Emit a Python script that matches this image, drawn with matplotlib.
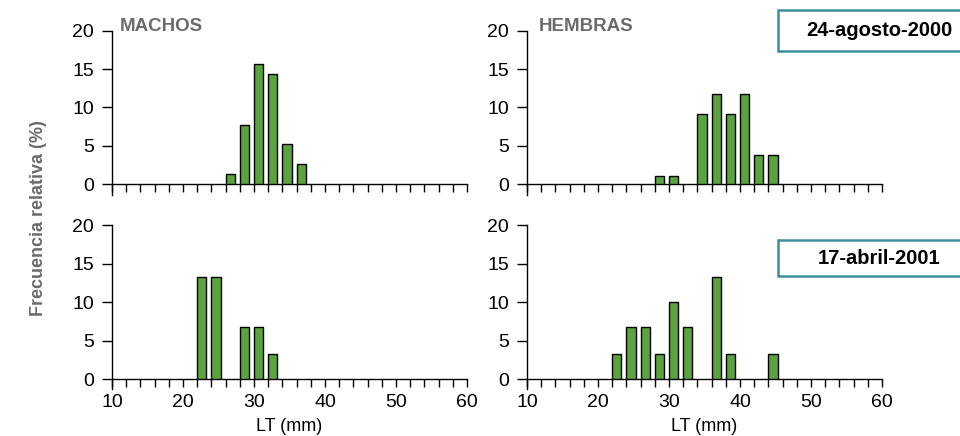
import matplotlib
matplotlib.use("Agg")
from matplotlib import pyplot as plt
from matplotlib.patches import Rectangle

plt.rcParams['font.family'] = ['Liberation Sans', 'DejaVu Sans']

# clases de talla (mm, borde izquierdo) y frecuencias relativas (%)
machos_ago_x = [26, 28, 30, 32, 34, 36]
machos_ago_y = [1.3, 7.7, 15.7, 14.4, 5.3, 2.7]

hembras_ago_x = [28, 30, 34, 36, 38, 40, 42, 44]
hembras_ago_y = [1.1, 1.1, 9.2, 11.7, 9.2, 11.7, 3.8, 3.8]

machos_abr_x = [22, 24, 28, 30, 32]
machos_abr_y = [13.3, 13.3, 6.7, 6.7, 3.3]

hembras_abr_x = [22, 24, 26, 28, 30, 32, 36, 38, 44]
hembras_abr_y = [3.3, 6.7, 6.7, 3.3, 10.0, 6.7, 13.3, 3.3, 3.3]

x_ticks = [10, 20, 30, 40, 50, 60]
y_ticks = [0, 5, 10, 15, 20]

verde = '#5ba33f'
gris = '#6b6b6b'
azul = '#3d8e9c'

fig = plt.figure(figsize=(9.6, 4.36), dpi=100)

pos = {
    'tl': [0.1167, 0.5773, 0.3698, 0.3523],
    'tr': [0.549, 0.5773, 0.3698, 0.3523],
    'bl': [0.1167, 0.1307, 0.3698, 0.3532],
    'br': [0.549, 0.1307, 0.3698, 0.3532],
}
datos = {
    'tl': (machos_ago_x, machos_ago_y),
    'tr': (hembras_ago_x, hembras_ago_y),
    'bl': (machos_abr_x, machos_abr_y),
    'br': (hembras_abr_x, hembras_abr_y),
}

for k in ['tl', 'tr', 'bl', 'br']:
    ax = fig.add_axes(pos[k])
    x, y = datos[k]
    ax.bar(x, y, width=1.3, align='edge', color=verde, edgecolor='black', linewidth=1, zorder=3)
    ax.set_xlim(10, 60)
    ax.set_ylim(0, 20)
    ax.set_yticks(y_ticks)
    ax.set_xticks(x_ticks)
    ax.set_xticks(range(10, 61, 2), minor=True)
    for s in ['top', 'right']:
        ax.spines[s].set_visible(False)
    ax.spines['left'].set_bounds(-1.35, 20)
    ax.spines['left'].set_linewidth(1)
    ax.spines['bottom'].set_linewidth(1)
    ax.tick_params(axis='y', direction='out', length=7, width=1, labelsize=14, pad=6)
    ax.tick_params(axis='x', which='both', direction='out', length=6, width=1, labelsize=14, pad=5)
    if k in ('tl', 'tr'):
        ax.tick_params(axis='x', which='both', labelbottom=False)
    else:
        ax.set_xlabel('LT (mm)', fontsize=13, labelpad=5)

fig.text(0.125, 0.940, 'MACHOS', fontsize=13.5, fontweight='bold', color=gris, va='center')
fig.text(0.561, 0.940, 'HEMBRAS', fontsize=13.5, fontweight='bold', color=gris, va='center')
fig.text(0.04, 0.50, 'Frecuencia relativa (%)', fontsize=13, fontweight='bold', color=gris,
         rotation=90, ha='center', va='center')

# recuadros de fecha
for y0, y1, txt in [(10, 50.5, '24-agosto-2000'), (240.5, 276.5, '17-abril-2001')]:
    fig.patches.append(Rectangle((778 / 960, 1 - y1 / 436), 190 / 960, (y1 - y0) / 436,
                                 transform=fig.transFigure, facecolor='white',
                                 edgecolor=azul, linewidth=1.8))
    fig.text(879 / 960, 1 - (y0 + y1) / 2 / 436, txt, fontsize=14.5, fontweight='bold',
             ha='center', va='center')

plt.savefig('out.png', dpi=100)
